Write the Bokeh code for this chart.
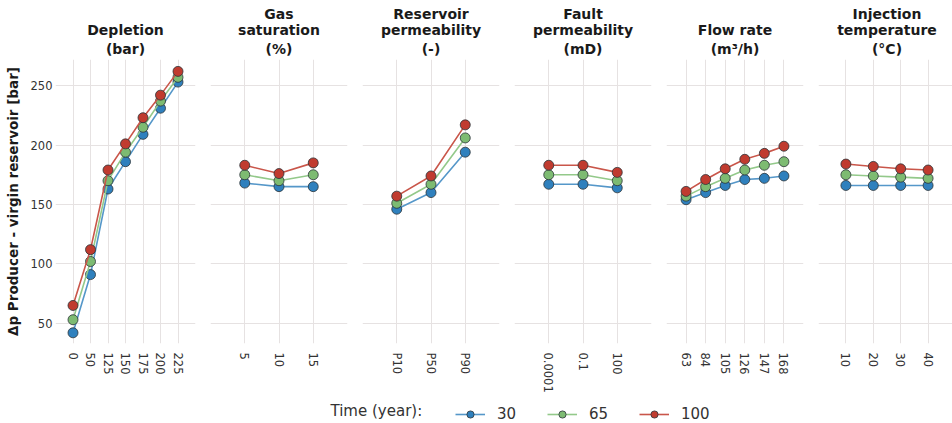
import math
from bokeh.plotting import figure
from bokeh.models import FactorRange, Range1d, FixedTicker, Legend, LegendItem, Label, Title
from bokeh.layouts import row, column
from bokeh.embed import file_html
from bokeh.resources import INLINE

# ---- data: pressure difference producer vs virgin reservoir [bar] ----
years = ["30", "65", "100"]

depletion_x = ["0", "50", "125", "150", "175", "200", "225"]
depletion_30 = [42, 91, 163, 186, 209, 231, 253]
depletion_65 = [53, 102, 170, 194, 215, 237, 257]
depletion_100 = [65, 112, 179, 201, 223, 242, 262]

gas_x = ["5", "10", "15"]
gas_30 = [168, 165, 165]
gas_65 = [175, 170, 175]
gas_100 = [183, 176, 185]

perm_x = ["P10", "P50", "P90"]
perm_30 = [146, 160, 194]
perm_65 = [151, 167, 206]
perm_100 = [157, 174, 217]

fault_x = ["0.0001", "0.1", "100"]
fault_30 = [167, 167, 164]
fault_65 = [175, 175, 170]
fault_100 = [183, 183, 177]

flow_x = ["63", "84", "105", "126", "147", "168"]
flow_30 = [154, 160, 166, 171, 172, 174]
flow_65 = [157, 165, 172, 179, 183, 186]
flow_100 = [161, 171, 180, 188, 193, 199]

temp_x = ["10", "20", "30", "40"]
temp_30 = [166, 166, 166, 166]
temp_65 = [175, 174, 173, 172]
temp_100 = [184, 182, 180, 179]

y_ticks = [50, 100, 150, 200, 250]

panels = [
    (["Depletion", "(bar)"], depletion_x, [depletion_30, depletion_65, depletion_100]),
    (["Gas", "saturation", "(%)"], gas_x, [gas_30, gas_65, gas_100]),
    (["Reservoir", "permeability", "(-)"], perm_x, [perm_30, perm_65, perm_100]),
    (["Fault", "permeability", "(mD)"], fault_x, [fault_30, fault_65, fault_100]),
    (["Flow rate", "(m³/h)"], flow_x, [flow_30, flow_65, flow_100]),
    (["Injection", "temperature", "(°C)"], temp_x, [temp_30, temp_65, temp_100]),
]

colors = ["#2f80bd", "#7dbb72", "#c03b2f"]
line_colors = ["#5597c9", "#93c98a", "#c9564a"]
edge_color = "#2b3338"
grid_color = "#e6e2e2"
text_color = "#333333"
FONT = "DejaVu Sans"

figs = []
n = len(panels)
for i, (title_lines, cats, series) in enumerate(panels):
    first = i == 0
    last = i == n - 1
    p = figure(
        x_range=FactorRange(*cats, range_padding=0.5, range_padding_units="absolute"),
        y_range=Range1d(33, 272),
        frame_width=140 if first else 137,
        frame_height=284,
        min_border_top=59,
        min_border_bottom=50,
        min_border_left=55 if first else 8,
        min_border_right=2 if last else 7,
        output_backend="svg",
        toolbar_location=None,
        title=None,
    )
    # stacked title lines: the first one added sits closest to the frame
    for k, line in enumerate(reversed(title_lines)):
        p.add_layout(Title(text=line, align="center", text_font=FONT, text_font_size="14px",
                           text_font_style="bold", text_color="#1a1a1a",
                           standoff=5 if k == 0 else -2, offset=0), "above")

    p.outline_line_color = None
    p.background_fill_color = "white"
    p.border_fill_color = "white"

    p.xgrid.grid_line_color = grid_color
    p.ygrid.grid_line_color = grid_color
    p.yaxis.ticker = FixedTicker(ticks=y_ticks)

    for ax in (p.xaxis[0], p.yaxis[0]):
        ax.axis_line_color = None
        ax.major_tick_line_color = None
        ax.minor_tick_line_color = None
        ax.major_tick_out = 0
        ax.major_tick_in = 0
        ax.minor_tick_out = 0
        ax.major_label_text_font = FONT
        ax.major_label_text_font_size = "11.5px"
        ax.major_label_text_color = text_color
    p.xaxis.major_label_orientation = -math.pi / 2
    p.xaxis.major_label_standoff = 9

    if first:
        p.yaxis.axis_label = "Δp Producer - virgin reservoir [bar]"
        p.yaxis.axis_label_text_font = FONT
        p.yaxis.axis_label_text_font_size = "13.5px"
        p.yaxis.axis_label_text_font_style = "bold"
        p.yaxis.axis_label_text_color = "#1a1a1a"
        p.yaxis.axis_label_standoff = 7
        p.yaxis.major_label_standoff = 3
    else:
        p.yaxis.visible = False

    for vals, c, lc in zip(series, colors, line_colors):
        p.line(x=cats, y=vals, line_color=lc, line_width=1.6)
        p.scatter(x=cats, y=vals, size=10, fill_color=c, line_color=edge_color, line_width=0.8)
    figs.append(p)

# ---- legend strip below the panels ----
leg = figure(
    width=952, height=30,
    x_range=Range1d(0, 952), y_range=Range1d(0, 30),
    min_border=0, output_backend="svg", toolbar_location=None,
)
leg.axis.visible = False
leg.grid.visible = False
leg.outline_line_color = None

leg.add_layout(Label(x=330, y=15, text="Time (year):", text_font=FONT, text_font_size="15px",
                     text_color=text_color, text_baseline="middle"))

# the strip's y range sits below every value, so these renderers only feed the legend glyphs
items = []
for yr, vals, c, lc in zip(years, panels[0][2], colors, line_colors):
    xs = list(range(len(vals)))
    lr = leg.line(x=xs, y=vals, line_color=lc, line_width=1.6)
    sr = leg.scatter(x=xs, y=vals, size=10, fill_color=c, line_color=edge_color, line_width=0.8)
    items.append(LegendItem(label=yr, renderers=[lr, sr]))

legend = Legend(
    items=items, orientation="horizontal", location=(455, 2),
    glyph_width=30, glyph_height=18, label_standoff=12, spacing=30,
    label_text_font=FONT, label_text_font_size="15px", label_text_color=text_color,
    border_line_color=None, background_fill_alpha=0, padding=4, margin=0,
)
leg.add_layout(legend)

layout = column(row(*figs), leg)

with open("out.html", "w") as f:
    f.write(file_html(layout, INLINE))
